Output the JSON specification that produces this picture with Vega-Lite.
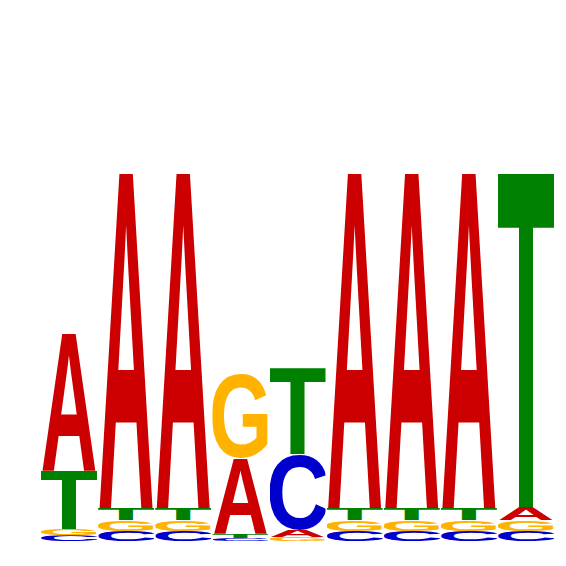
{
  "$schema": "https://vega.github.io/schema/vega-lite/v6.json",
  "width": 513,
  "height": 541,
  "autosize": "none",
  "padding": {"left": 41, "right": 12, "top": 0, "bottom": 25},
  "config": {"view": {"stroke": null}},
  "data": {
    "values": [
      {"pos": 1, "base": "C", "bits": 0.030},
      {"pos": 1, "base": "G", "bits": 0.032},
      {"pos": 1, "base": "T", "bits": 0.302},
      {"pos": 1, "base": "A", "bits": 0.709},
      {"pos": 2, "base": "C", "bits": 0.052},
      {"pos": 2, "base": "G", "bits": 0.057},
      {"pos": 2, "base": "T", "bits": 0.062},
      {"pos": 2, "base": "A", "bits": 1.729},
      {"pos": 3, "base": "C", "bits": 0.052},
      {"pos": 3, "base": "G", "bits": 0.057},
      {"pos": 3, "base": "T", "bits": 0.062},
      {"pos": 3, "base": "A", "bits": 1.729},
      {"pos": 4, "base": "C", "bits": 0.016},
      {"pos": 4, "base": "T", "bits": 0.021},
      {"pos": 4, "base": "A", "bits": 0.391},
      {"pos": 4, "base": "G", "bits": 0.440},
      {"pos": 5, "base": "G", "bits": 0.021},
      {"pos": 5, "base": "A", "bits": 0.036},
      {"pos": 5, "base": "C", "bits": 0.393},
      {"pos": 5, "base": "T", "bits": 0.445},
      {"pos": 6, "base": "C", "bits": 0.052},
      {"pos": 6, "base": "G", "bits": 0.057},
      {"pos": 6, "base": "T", "bits": 0.062},
      {"pos": 6, "base": "A", "bits": 1.729},
      {"pos": 7, "base": "C", "bits": 0.052},
      {"pos": 7, "base": "G", "bits": 0.057},
      {"pos": 7, "base": "T", "bits": 0.062},
      {"pos": 7, "base": "A", "bits": 1.729},
      {"pos": 8, "base": "C", "bits": 0.052},
      {"pos": 8, "base": "G", "bits": 0.057},
      {"pos": 8, "base": "T", "bits": 0.062},
      {"pos": 8, "base": "A", "bits": 1.729},
      {"pos": 9, "base": "C", "bits": 0.052},
      {"pos": 9, "base": "G", "bits": 0.057},
      {"pos": 9, "base": "A", "bits": 0.067},
      {"pos": 9, "base": "T", "bits": 1.724}
    ]
  },
  "transform": [
    {"stack": "bits", "groupby": ["pos"], "sort": [{"field": "bits", "order": "ascending"}], "as": ["y0", "y1"]}
  ],
  "encoding": {
    "x": {"field": "pos", "type": "ordinal", "scale": {"paddingInner": 0.02, "paddingOuter": 0}, "axis": null},
    "y": {"field": "y1", "type": "quantitative", "scale": {"domain": [0, 2.8], "nice": false}, "axis": null},
    "y2": {"field": "y0"}
  },
  "layer": [
    {
      "transform": [{"filter": "datum.base === 'A'"}],
      "mark": {"type": "image", "aspect": false},
      "encoding": {"url": {"value": "data:image/svg+xml;charset=utf-8,%3Csvg xmlns='http://www.w3.org/2000/svg' width='100' height='100' viewBox='0.6 -68.8 71 68.8' preserveAspectRatio='none'%3E%3Ctext x='0' y='0' font-family='Liberation Sans' font-weight='bold' font-size='100' fill='rgb(204,0,0)'%3EA%3C/text%3E%3C/svg%3E"}}
    },
    {
      "transform": [{"filter": "datum.base === 'C'"}],
      "mark": {"type": "image", "aspect": false},
      "encoding": {"url": {"value": "data:image/svg+xml;charset=utf-8,%3Csvg xmlns='http://www.w3.org/2000/svg' width='100' height='100' viewBox='3.9 -70.1 63.9 71.3' preserveAspectRatio='none'%3E%3Ctext x='0' y='0' font-family='Liberation Sans' font-weight='bold' font-size='100' fill='rgb(0,0,204)'%3EC%3C/text%3E%3C/svg%3E"}}
    },
    {
      "transform": [{"filter": "datum.base === 'G'"}],
      "mark": {"type": "image", "aspect": false},
      "encoding": {"url": {"value": "data:image/svg+xml;charset=utf-8,%3Csvg xmlns='http://www.w3.org/2000/svg' width='100' height='100' viewBox='4.3 -70.1 68.4 71.3' preserveAspectRatio='none'%3E%3Ctext x='0' y='0' font-family='Liberation Sans' font-weight='bold' font-size='100' fill='rgb(255,179,0)'%3EG%3C/text%3E%3C/svg%3E"}}
    },
    {
      "transform": [{"filter": "datum.base === 'T'"}],
      "mark": {"type": "image", "aspect": false},
      "encoding": {"url": {"value": "data:image/svg+xml;charset=utf-8,%3Csvg xmlns='http://www.w3.org/2000/svg' width='100' height='100' viewBox='1.8 -68.8 57.5 68.8' preserveAspectRatio='none'%3E%3Ctext x='0' y='0' font-family='Liberation Sans' font-weight='bold' font-size='100' fill='rgb(0,128,0)'%3ET%3C/text%3E%3C/svg%3E"}}
    }
  ]
}
